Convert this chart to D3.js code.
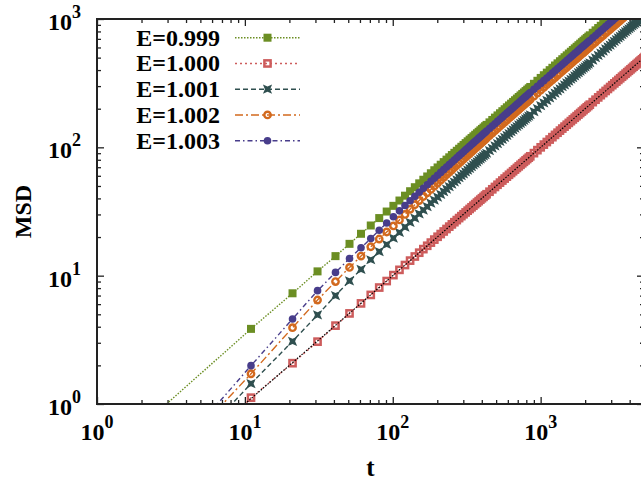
<!DOCTYPE html>
<html>
<head>
<meta charset="utf-8">
<script src="https://cdn.jsdelivr.net/npm/d3@7"></script>
<style>
  body { margin: 0; background: #fff; }
  text { font-family: "Liberation Serif", "Times New Roman", serif; font-weight: bold; fill: #000; }
</style>
</head>
<body>
<svg id="chart" width="641" height="481"></svg>
<script>

// sample times (t) shared by all runs
var tVals = [1,11,21,31,41,51,61,71,81,91,101,111,121,131,141,151,161,171,181,191,
  201,211,221,231,241,251,261,271,281,291,301,311,321,331,341,351,361,371,381,391,
  401,411,421,431,
  451,471,491,511,531,551,571,591,611,631,651,671,691,711,731,751,771,791,811,831,851,
  901,951,1001,1051,1101,1151,1201,1251,1301,1351,1401,1451,1501,1551,1601,1651,1701,
  1751,1801,1851,1901,1951,2001,2051,2101,2151,
  2251,2351,2451,2551,2651,2751,2851,2951,3051,3151,3251,3351,3451,3551,3651,3751,3851,
  3951,4051,4151,4251,4351,4451,4551,4651,4751,4851,4951,5051,5151];

// MSD, one list per energy
var msd0999 = [0.33,3.85,7.29,10.8,14.2,17.7,21.2,24.6,28.1,31.6,35.0,38.5,42.0,45.5,48.9,52.4,55.9,59.3,62.8,66.3,
  69.7,73.2,76.7,80.2,83.6,87.1,90.6,94.0,97.5,101,104.4,107.9,111.4,114.9,118.3,121.8,125.3,128.7,132.2,135.7,
  139.1,142.6,146.1,149.6,
  156.5,163.4,170.4,177.3,184.3,191.2,198.1,205.1,212.0,219.0,225.9,232.8,239.8,246.7,253.7,260.6,267.5,274.5,281.4,288.4,295.3,
  312.6,330.0,347.3,364.7,382.0,399.4,416.7,434.1,451.4,468.8,486.1,503.5,520.8,538.2,555.5,572.9,590.2,
  607.6,624.9,642.3,659.6,677.0,694.3,711.7,729.0,746.4,
  781.1,815.8,850.5,885.2,919.9,954.6,989.3,1024];

var msd1000 = [0.05,1.12,2.08,3.06,4.08,5.08,6.08,7.08,8.08,9.08,10.1,11.1,12.1,13.1,14.1,15.1,16.1,17.1,18.1,19.1,
  20.1,21.1,22.1,23.1,24.1,25.1,26.1,27.1,28.1,29.1,30.1,31.1,32.1,33.1,34.1,35.1,36.1,37.1,38.1,39.1,
  40.1,41.1,42.1,43.1,
  45.1,47.1,49.1,51.1,53.1,55.1,57.1,59.1,61.1,63.1,65.1,67.1,69.1,71.1,73.1,75.1,77.1,79.1,81.1,83.1,85.1,
  90.1,95.1,100,105,110,115,120,125,130,135,140,145,150,155,160,165,170,
  175,180,185,190,195,200,205,210,215,
  225,235,245,255,265,275,285,295,305,315,325,335,345,355,365,375,385,
  395,405,415,425,435,445,455,465,475,485,495,505,515];

var msd1001 = [0.077,1.44,3.08,4.94,7.0,9.1,11.2,13.3,15.4,17.5,19.6,21.7,23.9,26.0,28.1,30.3,32.4,34.5,36.7,38.8,
  40.9,43.0,45.2,47.3,49.4,51.6,53.7,55.8,58.0,60.1,62.2,64.3,66.5,68.6,70.7,72.9,75.0,77.1,79.3,81.4,
  83.5,85.6,87.8,89.9,
  94.2,98.4,102.7,107.0,111.2,115.5,119.7,124.0,128.2,132.5,136.8,141.0,145.3,149.5,153.8,158.1,162.3,166.6,170.8,175.1,179.4,
  190.0,200.7,211.3,222.0,232.6,243.3,253.9,264.6,275.2,285.9,296.5,307.2,317.8,328.5,339.1,349.8,360.4,
  371.1,381.7,392.4,403.0,413.7,424.3,435.0,445.6,456.3,
  477.6,498.9,520.2,541.5,562.8,584.1,605.4,626.7,648.0,669.3,690.6,711.9,733.2,754.5,775.8,797.1,818.4,
  839.7,861.0,882.3,903.6,924.9,946.2,967.5,988.8,1010];

var msd1002 = [0.09,1.72,3.93,6.46,9.0,11.6,14.2,16.8,19.3,21.9,24.4,27.2,30.0,32.9,35.7,38.5,41.4,44.2,47.0,49.9,
  52.7,55.5,58.3,61.2,64.0,66.8,69.7,72.5,75.3,78.2,81.0,83.8,86.7,89.5,92.3,95.1,98.0,100.8,103.6,106.5,
  109.3,112.1,115.0,117.8,
  123.4,129.1,134.8,140.4,146.1,151.7,157.4,163.1,168.7,174.4,180.0,185.7,191.4,197.0,202.7,208.3,214.0,219.7,225.3,231.0,236.6,
  250.8,264.9,279.1,293.2,307.4,321.5,335.7,349.8,364.0,378.1,392.3,406.4,420.6,434.7,448.9,463.0,477.2,
  491.3,505.5,519.6,533.8,547.9,562.1,576.2,590.4,604.5,
  632.8,661.1,689.4,717.7,746.0,774.3,802.6,830.9,859.2,887.5,915.8,944.1,972.4,1000.7,1029];

var msd1003 = [0.084,1.99,4.6,7.64,10.6,13.6,16.5,19.5,22.6,25.7,28.8,32.0,35.2,38.4,41.5,44.7,47.9,51.1,54.3,57.4,
  60.6,63.8,67.0,70.2,73.3,76.5,79.7,82.9,86.1,89.2,92.4,95.6,98.8,102.0,105.1,108.3,111.5,114.7,117.9,121.0,
  124.2,127.4,130.6,133.8,
  140.1,146.5,152.8,159.2,165.6,171.9,178.3,184.6,191.0,197.4,203.7,210.1,216.4,222.8,229.2,235.5,241.9,248.2,254.6,261.0,267.3,
  283.2,299.1,315.0,330.9,346.8,362.7,378.6,394.5,410.4,426.3,442.2,458.1,474.0,489.9,505.8,521.7,537.6,
  553.5,569.4,585.3,601.2,617.1,633.0,648.9,664.8,680.7,
  712.5,744.3,776.1,807.9,839.7,871.5,903.3,935.1,966.9,998.7,1030.5];

// black dotted reference line through the E=1.000 data
var refT = [10, 5000];
var refMSD = [1, 500];

var labels = ["E=0.999", "E=1.000", "E=1.001", "E=1.002", "E=1.003"];
var xMajor = [1, 10, 100, 1000];
var yMajor = [1, 10, 100, 1000];

var series = [
  {name: labels[0], vals: msd0999, color: "#6b8e23", dash: "1.5,1.5", shape: "square"},
  {name: labels[1], vals: msd1000, color: "#cd5c5c", dash: "2,3",     shape: "openSquare"},
  {name: labels[2], vals: msd1001, color: "#2f4f4f", dash: "5,3",     shape: "star"},
  {name: labels[3], vals: msd1002, color: "#d2691e", dash: "8,3,2,3", shape: "openCircle"},
  {name: labels[4], vals: msd1003, color: "#483d8b", dash: "5,3,1.5,3", shape: "circle"}
];

// plot box (note: "top" is taken by window.top, so prefix these)
var pLeft = 97, pRight = 644, pTop = 19, pBottom = 404;

var svg = d3.select("#chart");

var x = d3.scaleLog().domain([1, 5000]).range([pLeft, pRight]);
var y = d3.scaleLog().domain([1, 1000]).range([pBottom, pTop]);

svg.append("clipPath").attr("id", "plotclip")
   .append("rect")
   .attr("x", pLeft).attr("y", pTop)
   .attr("width", pRight - pLeft).attr("height", pBottom - pTop);

// minor tick values inside the domains
function minors(scale) {
  var d = scale.domain(), out = [];
  for (var p = 1; p <= 1000; p *= 10)
    for (var k = 2; k <= 9; k++)
      if (k * p > d[0] && k * p < d[1]) out.push(k * p);
  return out;
}

function addAxis(axisFn, scale, vals, size, tr) {
  var g = svg.append("g")
    .attr("transform", tr)
    .call(axisFn(scale).tickValues(vals).tickSize(size).tickSizeOuter(0).tickFormat(""));
  g.select(".domain").remove();
  g.selectAll("line").attr("stroke", "#222").attr("stroke-width", 1.3);
}

// ticks point inward on all four sides
addAxis(d3.axisBottom, x, xMajor, -7, "translate(0," + pBottom + ")");
addAxis(d3.axisBottom, x, minors(x), -4, "translate(0," + pBottom + ")");
addAxis(d3.axisTop, x, xMajor, -7, "translate(0," + pTop + ")");
addAxis(d3.axisTop, x, minors(x), -4, "translate(0," + pTop + ")");
addAxis(d3.axisLeft, y, yMajor, -7, "translate(" + pLeft + ",0)");
addAxis(d3.axisLeft, y, minors(y), -4, "translate(" + pLeft + ",0)");
addAxis(d3.axisRight, y, yMajor, -7, "translate(" + pRight + ",0)");
addAxis(d3.axisRight, y, minors(y), -4, "translate(" + pRight + ",0)");

// data
var plot = svg.append("g").attr("clip-path", "url(#plotclip)");

var line = d3.line()
  .x(function(d) { return x(d[0]); })
  .y(function(d) { return y(d[1]); });

function drawMarker(g, shape, color) {
  if (shape == "square") {
    g.append("rect").attr("x", -4).attr("y", -4).attr("width", 8).attr("height", 8).attr("fill", color);
  } else if (shape == "openSquare") {
    g.append("rect").attr("x", -3.1).attr("y", -3.1).attr("width", 6.2).attr("height", 6.2)
     .attr("fill", "none").attr("stroke", color).attr("stroke-width", 2.5);
  } else if (shape == "star") {
    g.append("path").attr("d", "M-4.6,-4.6L0,-2.6L4.6,-4.6L2.6,0L4.6,4.6L0,2.6L-4.6,4.6L-2.6,0Z").attr("fill", color);
  } else if (shape == "openCircle") {
    g.append("circle").attr("r", 3.2).attr("fill", "none").attr("stroke", color).attr("stroke-width", 2.4);
  } else {
    g.append("circle").attr("r", 3.8).attr("fill", color);
  }
}

series.forEach(function(s) {
  var pts = d3.zip(tVals, s.vals);
  plot.append("path")
    .datum(pts)
    .attr("d", line)
    .attr("fill", "none")
    .attr("stroke", s.color)
    .attr("stroke-width", 1.4)
    .attr("stroke-dasharray", s.dash);

  plot.append("g").selectAll("g")
    .data(pts)
    .enter().append("g")
    .attr("transform", function(d) { return "translate(" + x(d[0]) + "," + y(d[1]) + ")"; })
    .each(function() { drawMarker(d3.select(this), s.shape, s.color); });
});

plot.append("path")
  .datum(d3.zip(refT, refMSD))
  .attr("d", line)
  .attr("fill", "none")
  .attr("stroke", "#000")
  .attr("stroke-width", 1.2)
  .attr("stroke-dasharray", "1.5,1.5");

// frame
svg.append("rect")
  .attr("x", pLeft).attr("y", pTop)
  .attr("width", pRight - pLeft).attr("height", pBottom - pTop)
  .attr("fill", "none").attr("stroke", "#222").attr("stroke-width", 2);

// tick labels 10^n
function powLabel(px, py, n, anchor) {
  var t = svg.append("text")
    .attr("x", px).attr("y", py)
    .attr("text-anchor", anchor)
    .style("font-size", "24px");
  t.append("tspan").text("10");
  t.append("tspan").attr("dy", -12).style("font-size", "18px").text(n);
}

xMajor.forEach(function(v) {
  powLabel(x(v), 440, Math.round(Math.log10(v)), "middle");
});
yMajor.forEach(function(v) {
  powLabel(81, y(v) + 11, Math.round(Math.log10(v)), "end");
});

// axis titles
svg.append("text")
  .attr("x", (pLeft + pRight) / 2).attr("y", 476)
  .attr("text-anchor", "middle")
  .style("font-size", "25px")
  .text("t");

svg.append("text")
  .attr("transform", "translate(31," + ((pTop + pBottom) / 2) + ") rotate(-90)")
  .attr("text-anchor", "middle")
  .style("font-size", "24px")
  .text("MSD");

// key
var key = svg.append("g");
series.forEach(function(s, i) {
  var cy = 37.7 + i * 25.75;
  key.append("text")
    .attr("x", 220).attr("y", cy + 8)
    .attr("text-anchor", "end")
    .style("font-size", "24px")
    .text(s.name);
  key.append("line")
    .attr("x1", 235).attr("x2", 300)
    .attr("y1", cy).attr("y2", cy)
    .attr("stroke", s.color)
    .attr("stroke-width", 1.4)
    .attr("stroke-dasharray", s.dash);
  var m = key.append("g").attr("transform", "translate(267.5," + cy + ")");
  drawMarker(m, s.shape, s.color);
});

</script>
</body>
</html>
